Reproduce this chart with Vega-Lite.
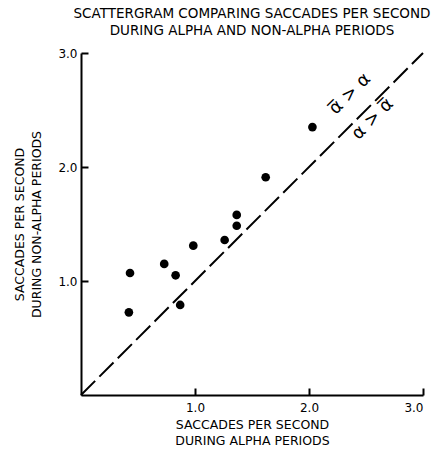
{
  "$schema": "https://vega.github.io/schema/vega-lite/v6.json",
  "width": 342,
  "height": 342,
  "autosize": "none",
  "padding": {"left": 81, "top": 53, "right": 12, "bottom": 54},
  "background": "white",
  "config": {
    "view": {"stroke": null},
    "font": "DejaVu Sans",
    "axis": {
      "domainColor": "black", "domainWidth": 2, "tickColor": "black", "tickWidth": 2,
      "labelColor": "black", "titleColor": "black", "labelFont": "DejaVu Sans", "titleFont": "DejaVu Sans",
      "labelFontSize": 12, "titleFontSize": 12.5, "titleFontWeight": "normal", "grid": false
    }
  },
  "title": {
    "text": ["SCATTERGRAM COMPARING SACCADES PER SECOND", "DURING ALPHA AND NON-ALPHA PERIODS"],
    "fontSize": 13.5, "fontWeight": "normal", "font": "DejaVu Sans", "color": "black",
    "anchor": "middle", "offset": 10, "lineHeight": 17
  },
  "datasets": {
    "points": [
      {"alpha": 0.43, "nonalpha": 1.07},
      {"alpha": 0.42, "nonalpha": 0.725},
      {"alpha": 0.73, "nonalpha": 1.15},
      {"alpha": 0.83, "nonalpha": 1.05},
      {"alpha": 0.87, "nonalpha": 0.79},
      {"alpha": 0.985, "nonalpha": 1.31},
      {"alpha": 1.26, "nonalpha": 1.36},
      {"alpha": 1.366, "nonalpha": 1.58},
      {"alpha": 1.366, "nonalpha": 1.485},
      {"alpha": 1.62, "nonalpha": 1.91},
      {"alpha": 2.03, "nonalpha": 2.35}
    ],
    "diagonal": [
      {"alpha": 0, "nonalpha": 0},
      {"alpha": 3, "nonalpha": 3}
    ],
    "labels": [
      {"alpha": 2.36, "nonalpha": 2.64, "label": "α̅ > α"},
      {"alpha": 2.56, "nonalpha": 2.42, "label": "α > α̅"}
    ]
  },
  "layer": [
    {
      "data": {"name": "diagonal"},
      "mark": {"type": "line", "color": "black", "strokeWidth": 2, "strokeDash": [20, 6]},
      "encoding": {
        "x": {"field": "alpha", "type": "quantitative", "scale": {"domain": [0, 3]},
          "axis": {"values": [1, 2, 3], "format": ".1f", "tickSize": -7, "labelPadding": 14,
            "title": ["SACCADES PER SECOND", "DURING ALPHA PERIODS"], "titlePadding": 5, "titleLineHeight": 16}},
        "y": {"field": "nonalpha", "type": "quantitative", "scale": {"domain": [0, 3]},
          "axis": {"values": [1, 2, 3], "format": ".1f", "tickSize": -7, "labelPadding": 11,
            "title": ["SACCADES PER SECOND", "DURING NON-ALPHA PERIODS"], "titlePadding": 14, "titleLineHeight": 17}}
      }
    },
    {
      "data": {"name": "points"},
      "mark": {"type": "point", "filled": true, "color": "black", "opacity": 1, "size": 75},
      "encoding": {
        "x": {"field": "alpha", "type": "quantitative"},
        "y": {"field": "nonalpha", "type": "quantitative"}
      }
    },
    {
      "data": {"name": "labels"},
      "mark": {"type": "text", "angle": 315, "fontSize": 18, "color": "black", "font": "DejaVu Sans", "align": "center", "baseline": "middle"},
      "encoding": {
        "x": {"field": "alpha", "type": "quantitative"},
        "y": {"field": "nonalpha", "type": "quantitative"},
        "text": {"field": "label"}
      }
    }
  ]
}
